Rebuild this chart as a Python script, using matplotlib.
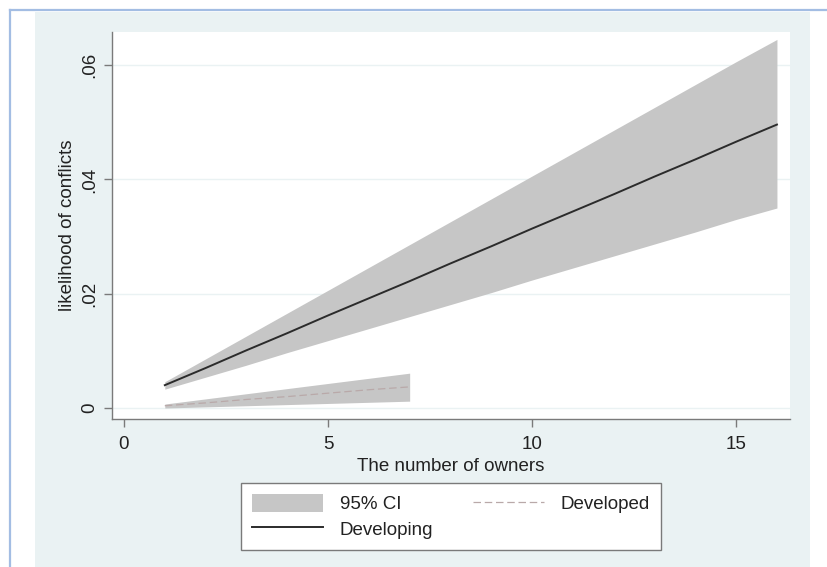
import matplotlib
matplotlib.use("Agg")
import matplotlib.pyplot as plt
from matplotlib.patches import Rectangle
from matplotlib.lines import Line2D

plt.rcParams['font.family'] = ['Liberation Sans', 'DejaVu Sans']

# predicted likelihood by number of owners
owners_dev = [1, 2, 3, 4, 5, 6, 7, 8, 9, 10, 11, 12, 13, 14, 15, 16]
developing = [0.0040, 0.0070, 0.0101, 0.0131, 0.0162, 0.0192, 0.0222, 0.0253,
              0.0283, 0.0314, 0.0344, 0.0374, 0.0405, 0.0435, 0.0466, 0.0496]
developing_hi = [0.0046, 0.0086, 0.0126, 0.0166, 0.0206, 0.0246, 0.0286, 0.0326,
                 0.0366, 0.0406, 0.0446, 0.0486, 0.0526, 0.0566, 0.0606, 0.0645]
developing_lo = [0.0033, 0.0054, 0.0075, 0.0097, 0.0118, 0.0139, 0.0160, 0.0181,
                 0.0202, 0.0224, 0.0245, 0.0266, 0.0287, 0.0308, 0.0330, 0.0350]

owners_dvd = [1, 2, 3, 4, 5, 6, 7]
developed = [0.0004, 0.0009, 0.0015, 0.0020, 0.0026, 0.0032, 0.0037]
developed_hi = [0.0007, 0.0016, 0.0025, 0.0034, 0.0043, 0.0052, 0.0061]
developed_lo = [0.0000, 0.0002, 0.0004, 0.0006, 0.0008, 0.0010, 0.0012]

xticks = [0, 5, 10, 15]
yticks = [0, 0.02, 0.04, 0.06]
ytick_labels = ['0', '.02', '.04', '.06']

W, H = 828, 567
fig = plt.figure(figsize=(W / 100, H / 100), dpi=100, facecolor='white')

# graph region background and frame
fig.add_artist(Rectangle((35 / W, 0), (810 - 35) / W, 1 - 12 / H,
                         transform=fig.transFigure, facecolor='#eaf2f3',
                         edgecolor='none', zorder=-10))
fig.add_artist(Line2D([9.5 / W, 1], [1 - 10 / H, 1 - 10 / H], transform=fig.transFigure,
                      color='#a3bde3', lw=1.6, zorder=-5))
fig.add_artist(Line2D([10 / W, 10 / W], [0, 1 - 10 / H], transform=fig.transFigure,
                      color='#a3bde3', lw=1.6, zorder=-5))

ax = fig.add_axes([112 / W, 1 - 419 / H, (790 - 112) / W, (419 - 32) / H])
ax.set_facecolor('white')

band = '#c6c6c6'
ax.fill_between(owners_dev, developing_lo, developing_hi, color=band, lw=0, label='95% CI')
ax.fill_between(owners_dvd, developed_lo, developed_hi, color=band, lw=0)
ax.plot(owners_dev, developing, color='#2b2b2b', lw=1.4, label='Developing')
ax.plot(owners_dvd, developed, color='#b9a9a9', lw=0.9, dashes=(6, 3), label='Developed')

ax.set_xlim(-0.294, 16.32)
ax.set_ylim(-0.00192, 0.0658)
ax.set_xticks(xticks)
ax.set_yticks(yticks)
ax.set_yticklabels(ytick_labels, rotation=90, va='center')
ax.grid(axis='y', color='#eaf2f3', lw=1)
ax.set_axisbelow(True)

for s in ['top', 'right']:
    ax.spines[s].set_visible(False)
for s in ['left', 'bottom']:
    ax.spines[s].set_color('#7a7a7a')
    ax.spines[s].set_linewidth(1.0)
ax.tick_params(length=6, width=1.0, color='#7a7a7a', labelsize=13.5,
               labelcolor='#222222')
ax.tick_params(axis='y', pad=4)
ax.tick_params(axis='x', pad=6.5)

ax.set_xlabel('The number of owners', fontsize=13.5, color='#222222', labelpad=3)
ax.set_ylabel('likelihood of conflicts', fontsize=13.5, color='#222222', labelpad=4)

handles, labels = ax.get_legend_handles_labels()
order = [labels.index('95% CI'), labels.index('Developing'), labels.index('Developed')]
leg = fig.legend([handles[i] for i in order], [labels[i] for i in order],
                 loc='center', bbox_to_anchor=(451 / W, 1 - 516.5 / H), ncol=2,
                 fontsize=13.5, frameon=True, fancybox=False, framealpha=1,
                 edgecolor='#7a7a7a', handlelength=3.8, handleheight=1.1,
                 handletextpad=0.9, columnspacing=2.1, labelspacing=0.35,
                 borderpad=0.6)
leg.get_frame().set_linewidth(1.0)
for t in leg.get_texts():
    t.set_color('#222222')

fig.savefig('out.png', dpi=100, facecolor='white')
